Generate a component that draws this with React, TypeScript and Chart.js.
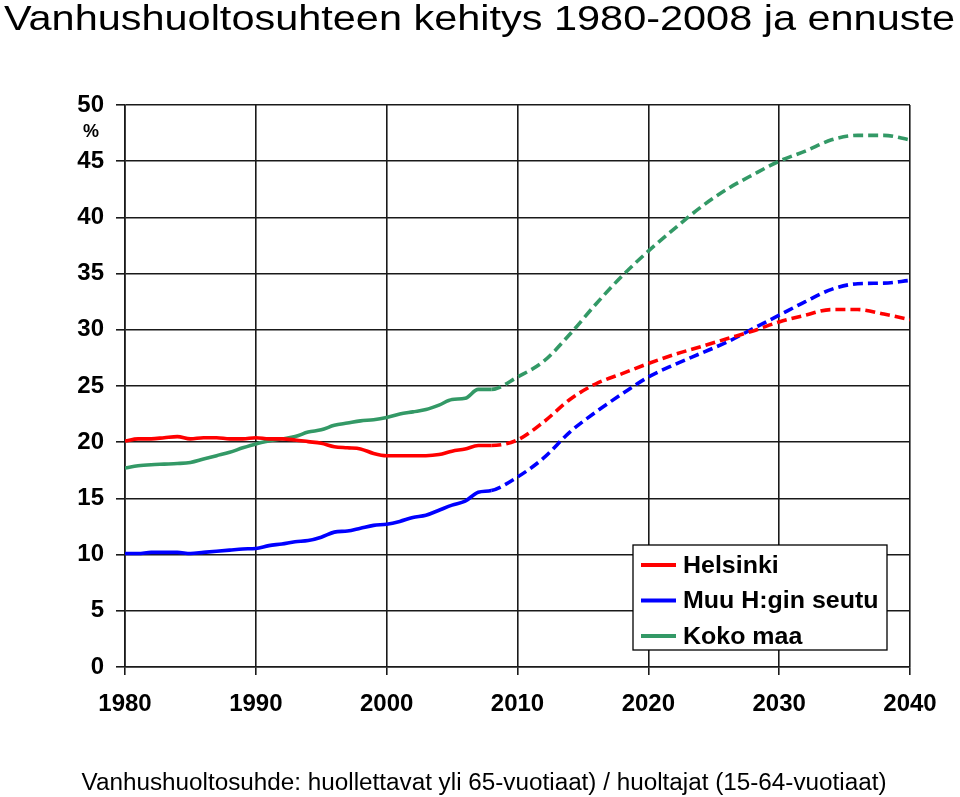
import React, { useEffect, useRef } from 'react';
import { Chart, registerables } from 'chart.js';

Chart.register(...registerables);

const TITLE = 'Vanhushuoltosuhteen kehitys 1980-2008 ja ennuste';
const CAPTION = 'Vanhushuoltosuhde: huollettavat yli 65-vuotiaat) / huoltajat (15-64-vuotiaat)';
const UNIT = '%';

const X_MIN = 1980;
const X_MAX = 2040;
const X_STEP = 10;
const Y_MIN = 0;
const Y_MAX = 50;
const Y_STEP = 5;

const histYears = [
  1980, 1981, 1982, 1983, 1984, 1985, 1986, 1987, 1988, 1989,
  1990, 1991, 1992, 1993, 1994, 1995, 1996, 1997, 1998, 1999,
  2000, 2001, 2002, 2003, 2004, 2005, 2006, 2007, 2008,
];
const projYears = [
  2010, 2012, 2014, 2016, 2018, 2020, 2022, 2024,
  2026, 2028, 2030, 2032, 2034, 2036, 2038, 2040,
];

const helsinkiHist = [
  20.1, 20.3, 20.3, 20.4, 20.5, 20.3, 20.4, 20.4, 20.3, 20.3,
  20.4, 20.3, 20.3, 20.2, 20.05, 19.9, 19.6, 19.5, 19.4, 19.0,
  18.8, 18.8, 18.8, 18.8, 18.9, 19.2, 19.4, 19.7, 19.7,
];
const helsinkiProj = [
  20.2, 21.8, 23.8, 25.2, 26.1, 27.0, 27.8, 28.5,
  29.2, 29.9, 30.7, 31.3, 31.8, 31.8, 31.4, 30.9,
];

const muuHist = [
  10.1, 10.1, 10.2, 10.2, 10.2, 10.1, 10.2, 10.3, 10.4, 10.5,
  10.55, 10.8, 10.95, 11.15, 11.25, 11.55, 12.0, 12.1, 12.35, 12.6,
  12.7, 12.95, 13.3, 13.5, 13.95, 14.4, 14.75, 15.55, 15.7,
];
const muuProj = [
  16.9, 18.6, 20.9, 22.7, 24.3, 25.8, 26.9, 27.9,
  28.9, 30.1, 31.3, 32.5, 33.6, 34.1, 34.15, 34.4,
];

const kokoHist = [
  17.7, 17.9, 18.0, 18.05, 18.1, 18.2, 18.5, 18.8, 19.1, 19.5,
  19.85, 20.1, 20.3, 20.5, 20.9, 21.1, 21.5, 21.7, 21.9, 22.0,
  22.2, 22.5, 22.7, 22.9, 23.3, 23.8, 23.9, 24.7, 24.7,
];
const kokoProj = [
  25.8, 27.2, 29.6, 32.3, 34.8, 37.0, 39.0, 40.9,
  42.5, 43.8, 45.0, 45.9, 46.9, 47.3, 47.3, 46.9,
];

const seriesLabels = ['Helsinki', 'Muu H:gin seutu', 'Koko maa'];
const seriesColors = ['#ff0000', '#0000ff', '#339966'];
const LAST_OBSERVED_YEAR = 2008;

const FONT = '"Liberation Sans", Arial, Helvetica, sans-serif';

function toPoints(hist: number[], proj: number[]) {
  return histYears
    .map((x, i) => ({ x, y: hist[i] }))
    .concat(projYears.map((x, i) => ({ x, y: proj[i] })));
}

// draws text starting at x, stretched horizontally to the given width
function drawFitted(ctx: CanvasRenderingContext2D, text: string, x: number, y: number, width: number) {
  const w = ctx.measureText(text).width;
  const sx = width / w;
  ctx.save();
  ctx.translate(x, y);
  ctx.scale(sx, 1);
  ctx.textAlign = 'left';
  ctx.fillText(text, 0, 0);
  ctx.restore();
}

const textAndLegend = {
  id: 'textAndLegend',
  afterDraw(chart: any) {
    const ctx = chart.ctx as CanvasRenderingContext2D;
    const { left, top } = chart.chartArea;
    ctx.save();
    ctx.fillStyle = '#000';

    // title
    ctx.font = `normal 35px ${FONT}`;
    ctx.textBaseline = 'alphabetic';
    drawFitted(ctx, TITLE, 4, 29.5, 951);

    // caption
    ctx.font = `normal 23px ${FONT}`;
    drawFitted(ctx, CAPTION, 81.5, 790, 805);

    // unit label under the top tick
    ctx.font = `bold 18px ${FONT}`;
    ctx.textAlign = 'center';
    ctx.textBaseline = 'middle';
    ctx.fillText(UNIT, left - 34, top + 27);

    // legend box
    const bx = left + 508;
    const by = top + 440;
    const bw = 254;
    const bh = 105;
    ctx.fillStyle = '#fff';
    ctx.fillRect(bx, by, bw, bh);
    ctx.strokeStyle = '#000';
    ctx.lineWidth = 1.3;
    ctx.strokeRect(bx, by, bw, bh);
    ctx.font = `bold 24px ${FONT}`;
    ctx.textBaseline = 'middle';
    chart.data.datasets.forEach((ds: any, i: number) => {
      const y = by + 20 + i * 35.5;
      ctx.strokeStyle = ds.borderColor;
      ctx.lineWidth = 4;
      ctx.setLineDash([]);
      ctx.beginPath();
      ctx.moveTo(bx + 8, y);
      ctx.lineTo(bx + 43, y);
      ctx.stroke();
      ctx.fillStyle = '#000';
      const w = ctx.measureText(ds.label).width;
      drawFitted(ctx, ds.label, bx + 50, y + 1, w * 1.04);
    });
    ctx.restore();
  },
};

export default function App() {
  const canvasRef = useRef<HTMLCanvasElement | null>(null);

  useEffect(() => {
    const canvas = canvasRef.current;
    if (!canvas) return;
    const series = [
      [helsinkiHist, helsinkiProj],
      [muuHist, muuProj],
      [kokoHist, kokoProj],
    ];
    const chart = new Chart(canvas, {
      type: 'line',
      data: {
        datasets: series.map(([h, p], i) => ({
          label: seriesLabels[i],
          data: toPoints(h, p),
          borderColor: seriesColors[i],
          backgroundColor: seriesColors[i],
          borderWidth: 3.6,
          pointRadius: 0,
          fill: false,
          cubicInterpolationMode: 'monotone' as const,
          segment: {
            borderDash: (c: any) => (c.p0.parsed.x >= LAST_OBSERVED_YEAR ? [10, 5] : undefined),
          },
        })),
      },
      plugins: [textAndLegend],
      options: {
        animation: false,
        responsive: false,
        maintainAspectRatio: false,
        layout: { padding: { left: 5, right: 50, top: 105, bottom: 80 } },
        plugins: {
          legend: { display: false },
          tooltip: { enabled: false },
          title: { display: false },
          subtitle: { display: false },
        },
        scales: {
          x: {
            type: 'linear',
            min: X_MIN,
            max: X_MAX,
            afterFit: (s: any) => {
              s.height = 50;
            },
            ticks: {
              stepSize: X_STEP,
              padding: 15,
              color: '#000',
              font: { family: FONT, size: 24, weight: 'bold' },
              callback: (v: any) => String(v),
              maxRotation: 0,
            },
            grid: { color: '#1a1a1a', lineWidth: 1.6, tickLength: 8 },
            border: { color: '#1a1a1a', width: 1.6 },
          },
          y: {
            min: Y_MIN,
            max: Y_MAX,
            afterFit: (s: any) => {
              s.width = 120;
            },
            ticks: {
              stepSize: Y_STEP,
              padding: 12,
              color: '#000',
              font: { family: FONT, size: 24, weight: 'bold' },
            },
            grid: { color: '#1a1a1a', lineWidth: 1.6, tickLength: 9 },
            border: { color: '#1a1a1a', width: 1.6 },
          },
        },
      },
    });
    return () => chart.destroy();
  }, []);

  return (
    <div style={{ position: 'absolute', left: 0, top: 0, width: 960, height: 797, background: '#fff' }}>
      <canvas ref={canvasRef} width={960} height={797} style={{ width: 960, height: 797, display: 'block' }} />
    </div>
  );
}
